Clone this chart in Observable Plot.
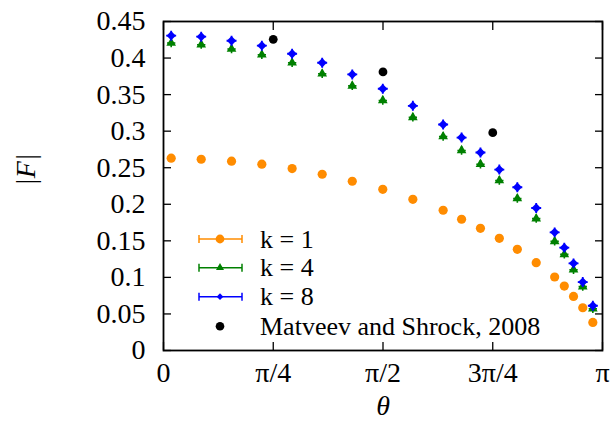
<!DOCTYPE html>
<html><head><meta charset="utf-8">
<script src="https://cdn.jsdelivr.net/npm/d3@7"></script>
<script src="https://cdn.jsdelivr.net/npm/@observablehq/plot@0.6"></script>
<style>html,body{margin:0;padding:0;background:#fff}</style>
</head><body><div id="chart"></div>
<script>
// theta in units of pi
const thetaOverPi = [0.0175, 0.0859, 0.155, 0.224, 0.293, 0.3615, 0.430, 0.4995, 0.568, 0.637,
                     0.679, 0.722, 0.765, 0.806, 0.849, 0.891, 0.913, 0.934, 0.955, 0.978];
const fK1 = [0.263, 0.2616, 0.2589, 0.2548, 0.2489, 0.2411, 0.2315, 0.2205, 0.2068, 0.1918,
             0.1795, 0.1671, 0.1534, 0.1384, 0.1201, 0.1005, 0.0881, 0.074, 0.0585, 0.0384];
const fK4 = [0.4205, 0.4183, 0.4123, 0.4045, 0.3936, 0.3785, 0.362, 0.342, 0.3188, 0.2927,
             0.2736, 0.2548, 0.2325, 0.2078, 0.1804, 0.1493, 0.1315, 0.1105, 0.0873, 0.0571];
const fK8 = [0.4306, 0.4292, 0.4237, 0.4169, 0.4059, 0.3936, 0.3776, 0.358, 0.3347, 0.3091,
             0.2913, 0.2708, 0.2475, 0.2233, 0.1949, 0.1616, 0.1407, 0.1192, 0.0936, 0.0612];
const refTheta = [0.25, 0.5, 0.75];
const refF = [0.4256, 0.381, 0.298];

const xTicks = [0, 0.25, 0.5, 0.75, 1];
const xTickLabels = ["0", "π/4", "π/2", "3π/4", "π"];
const yTicks = [0, 0.05, 0.1, 0.15, 0.2, 0.25, 0.3, 0.35, 0.4, 0.45];
const yTickLabels = ["0", "0.05", "0.1", "0.15", "0.2", "0.25", "0.3", "0.35", "0.4", "0.45"];
const seriesNames = ["k = 1", "k = 4", "k = 8", "Matveev and Shrock, 2008"];
const seriesColors = ["#ff8c00", "#008000", "#0000ff", "#000000"];
const xLabel = "θ";
const yLabel = "|F|";

const font = "'Liberation Serif', 'Times New Roman', serif";
const rows = (ys) => thetaOverPi.map((t, i) => ({t, F: ys[i]}));
const d1 = rows(fK1), d4 = rows(fK4), d8 = rows(fK8);
const dRef = refTheta.map((t, i) => ({t, F: refF[i]}));

const plot = Plot.plot({
  width: 610, height: 434,
  marginLeft: 163, marginRight: 8, marginTop: 21, marginBottom: 84,
  style: {fontFamily: font, fontSize: "28px", background: "white", color: "black", overflow: "visible"},
  x: {domain: [0, 1]},
  y: {domain: [0, 0.45]},
  marks: [
    Plot.axisX({ticks: xTicks, tickFormat: d => xTickLabels[xTicks.indexOf(d)], tickSize: -8, tickPadding: 20, label: null, strokeWidth: 1.3, fontSize: 28}),
    Plot.axisX({anchor: "top", ticks: xTicks, tickFormat: () => "", tickSize: -8, label: null, strokeWidth: 1.3}),
    Plot.axisY({ticks: yTicks, tickFormat: d => yTickLabels[yTicks.indexOf(d)], tickSize: -8, tickPadding: 26, label: null, strokeWidth: 1.3, fontSize: 28}),
    Plot.axisY({anchor: "right", ticks: yTicks, tickFormat: () => "", tickSize: -8, label: null, strokeWidth: 1.3}),
    Plot.frame({stroke: "black", strokeWidth: 1.8}),
    Plot.dot(d1, {x: "t", y: "F", r: 4.6, fill: seriesColors[0], symbol: "circle"}),
    Plot.dot(d4, {x: "t", y: "F", r: 3.6, fill: seriesColors[1], symbol: "triangle"}),
    Plot.dot(d4, {x: "t", y: "F", r: 2.8, stroke: seriesColors[1], strokeWidth: 1.6, symbol: "plus"}),
    Plot.dot(d8, {x: "t", y: "F", r: 4.2, fill: seriesColors[2], symbol: "diamond2"}),
    Plot.dot(d8, {x: "t", y: "F", r: 3.3, stroke: seriesColors[2], strokeWidth: 1.8, symbol: "plus"}),
    Plot.dot(dRef, {x: "t", y: "F", r: 4.4, fill: seriesColors[3], symbol: "circle"}),
    Plot.text([xLabel], {frameAnchor: "bottom", dy: 64, fontStyle: "italic", fontSize: 28}),
    Plot.text([yLabel], {frameAnchor: "left", dx: -137, rotate: -90, fontStyle: "italic", fontSize: 28})
  ]
});
document.getElementById("chart").appendChild(plot);

// Legend (inside the frame, bottom-left), drawn relative to the frame corner
const svg = d3.select(plot);
const fx0 = 163, fy1 = 350; // frame left / bottom
const legendDy = [-111, -82.3, -53.3, -23.7];
const lg = svg.append("g").attr("font-family", font).attr("font-size", 26).attr("text-anchor", "start");
seriesNames.forEach((name, i) => {
  const y = fy1 + legendDy[i];
  const c = seriesColors[i];
  const g = lg.append("g");
  if (i < 3) {
    g.append("line").attr("x1", fx0 + 36).attr("x2", fx0 + 79).attr("y1", y).attr("y2", y).attr("stroke", c).attr("stroke-width", 1.5);
    g.append("line").attr("x1", fx0 + 36).attr("x2", fx0 + 36).attr("y1", y - 4).attr("y2", y + 4).attr("stroke", c).attr("stroke-width", 1.5);
    g.append("line").attr("x1", fx0 + 79).attr("x2", fx0 + 79).attr("y1", y - 4).attr("y2", y + 4).attr("stroke", c).attr("stroke-width", 1.5);
  }
  const sym = [d3.symbolCircle, d3.symbolTriangle, d3.symbolDiamond2, d3.symbolCircle][i];
  const size = [Math.PI * 4.4 * 4.4, Math.PI * 3.0 * 3.0, Math.PI * 3.0 * 3.0, Math.PI * 4.3 * 4.3][i];
  g.append("path").attr("d", d3.symbol(sym, size)()).attr("transform", `translate(${fx0 + 57},${y})`).attr("fill", c);
  g.append("text").attr("x", fx0 + 97).attr("y", y).attr("dy", "0.33em").attr("text-anchor", "start").attr("fill", "black").text(name);
});
</script>
</body></html>
